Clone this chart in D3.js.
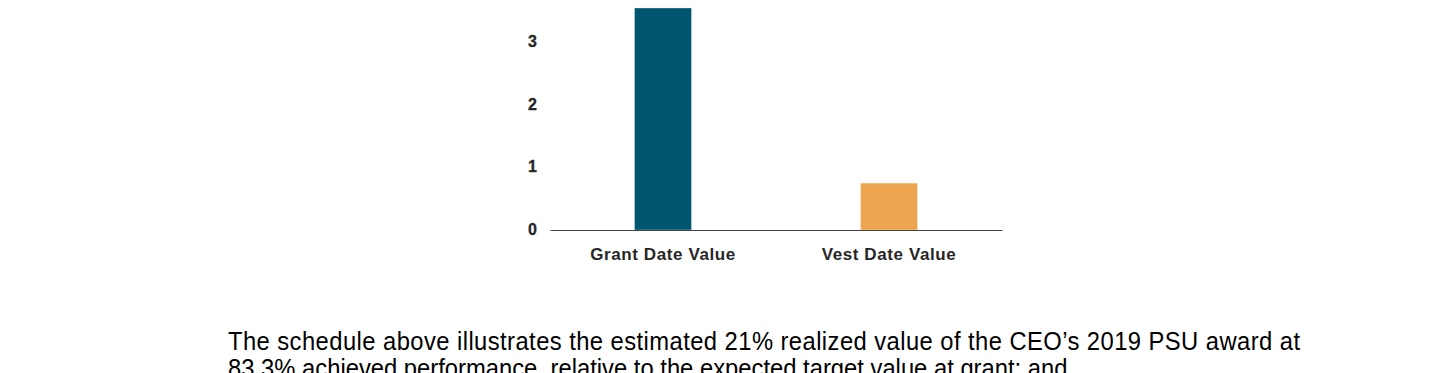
<!DOCTYPE html>
<html>
<head>
<meta charset="utf-8">
<script src="https://cdn.jsdelivr.net/npm/d3@7"></script>
<style>
  html, body { margin: 0; padding: 0; background: #fff; }
  svg { display: block; }
</style>
</head>
<body>
<svg id="chart" width="1440" height="373"></svg>
<script>
// values (in $M)
const categories = ['Grant Date Value', 'Vest Date Value'];
const values = [3.55, 0.75];
const barColors = ['#01566f', '#eca54e'];
const yTicks = [0, 1, 2, 3];
const noteLines = [
  'The schedule above illustrates the estimated 21% realized value of the CEO\u2019s 2019 PSU award at',
  '83.3% achieved performance, relative to the expected target value at grant; and'
];

const svg = d3.select('#chart');

const x = d3.scaleBand()
  .domain(categories)
  .range([550, 1002])
  .paddingInner(0.748)
  .paddingOuter(0.374);

const y = d3.scaleLinear()
  .domain([0, 3.55])
  .range([230, 8]);

// bars
svg.append('g')
  .selectAll('rect')
  .data(values)
  .enter()
  .append('rect')
  .attr('x', (d, i) => x(categories[i]))
  .attr('y', d => y(d))
  .attr('width', x.bandwidth())
  .attr('height', d => y(0) - y(d))
  .attr('fill', (d, i) => barColors[i])
  .attr('stroke', '#ffffff')
  .attr('stroke-opacity', 0.5)
  .attr('stroke-width', 0.6);

// y axis: labels only
const yAxis = svg.append('g')
  .attr('transform', 'translate(550,0)')
  .call(d3.axisLeft(y).tickValues(yTicks).tickFormat(d3.format('d')).tickSize(0).tickPadding(13));
yAxis.select('.domain').remove();
yAxis.selectAll('text')
  .attr('dy', '0.28em')
  .style('font-family', 'Arial, "Liberation Sans", sans-serif')
  .style('font-weight', 'bold')
  .style('font-size', '16px')
  .style('fill', '#262626')
  .style('stroke', '#262626')
  .style('stroke-width', '0.3px');

// x axis with baseline
const xAxis = svg.append('g')
  .attr('transform', `translate(0,${y(0)})`)
  .call(d3.axisBottom(x).tickSize(0).tickPadding(18));
xAxis.select('.domain')
  .attr('stroke', '#444')
  .attr('stroke-width', 1.2);
xAxis.selectAll('text')
  .style('font-family', 'Arial, "Liberation Sans", sans-serif')
  .style('font-weight', 'bold')
  .style('font-size', '17px')
  .style('letter-spacing', '0.6px')
  .style('fill', '#262626');

// paragraph below the chart (narrow, justified first line)
const note = svg.append('g')
  .style('font-family', 'Arial, "Liberation Sans", sans-serif')
  .style('font-size', '25px')
  .style('fill', '#000');

const probe = note.append('text').text(noteLines[1]);
const natural = probe.node().getComputedTextLength();
probe.remove();
const sx = 840 / natural;

const inner = note.append('g').attr('transform', `translate(228,0) scale(${sx},1)`);
inner.append('text')
  .attr('x', 0)
  .attr('y', 350)
  .attr('textLength', 1072 / sx)
  .attr('lengthAdjust', 'spacing')
  .text(noteLines[0]);
inner.append('text')
  .attr('x', 0)
  .attr('y', 377)
  .text(noteLines[1]);
</script>
</body>
</html>
